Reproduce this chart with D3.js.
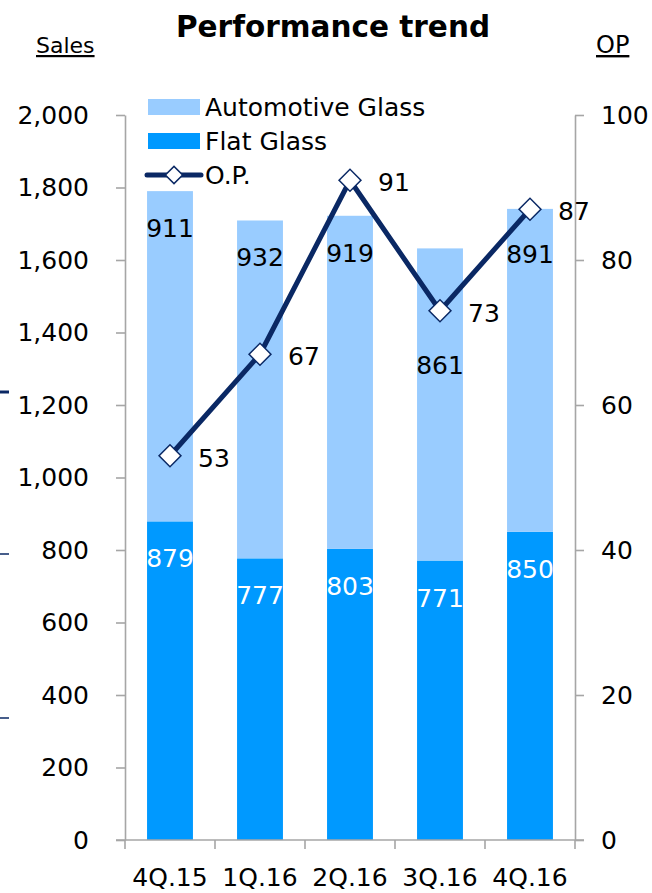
<!DOCTYPE html>
<html>
<head>
<meta charset="utf-8">
<script src="https://cdn.jsdelivr.net/npm/d3@7"></script>
<style>
  html, body { margin: 0; padding: 0; background: #fff; }
  svg { display: block; }
  text { font-family: "DejaVu Sans", Verdana, sans-serif; fill: #000; }
</style>
</head>
<body>
<div id="chart"></div>
<script>
// Quarterly sales (stacked by segment) with operating profit on a secondary axis
const quarters = ["4Q.15", "1Q.16", "2Q.16", "3Q.16", "4Q.16"];
const flatGlass = [879, 777, 803, 771, 850];
const automotiveGlass = [911, 932, 919, 861, 891];
const operatingProfit = [53, 67, 91, 73, 87];
const salesTicks = [0, 200, 400, 600, 800, 1000, 1200, 1400, 1600, 1800, 2000];
const opTicks = [0, 20, 40, 60, 80, 100];

// extra downward shift for automotive labels that would collide with the O.P. line
const autoLabelShift = [0, 0, 0, 80, 8];

const W = 652, H = 893;
const C = { auto: "#99ccff", flat: "#0099ff", op: "#0a2864", axis: "#a6a6a6" };

const svg = d3.select("#chart").append("svg").attr("width", W).attr("height", H);

const x = d3.scaleBand().domain(quarters).range([125, 575])
  .paddingInner(0.49).paddingOuter(0.245);
const xCell = d3.scaleBand().domain(quarters).range([125, 575]).padding(0);
const ySales = d3.scaleLinear().domain([0, 2000]).range([840, 115]);
const yOp = d3.scaleLinear().domain([0, 100]).range([840, 115]);

const rows = quarters.map((q, i) => ({ q, flat: flatGlass[i], auto: automotiveGlass[i], op: operatingProfit[i], i }));
const stack = d3.stack().keys(["flat", "auto"])(rows);

// bars
const segColor = { flat: C.flat, auto: C.auto };
svg.append("g").selectAll("g").data(stack).join("g")
  .attr("fill", d => segColor[d.key])
  .selectAll("rect").data(d => d).join("rect")
  .attr("x", d => x(d.data.q))
  .attr("width", x.bandwidth())
  .attr("y", d => ySales(d[1]))
  .attr("height", d => ySales(d[0]) - ySales(d[1]));

// bar value labels, near the top of each segment
const labels = svg.append("g").attr("font-size", 25).attr("text-anchor", "middle");
stack.forEach(layer => {
  labels.selectAll(null).data(layer).join("text")
    .attr("x", d => x(d.data.q) + x.bandwidth() / 2)
    .attr("y", d => ySales(d[1]) + 37 + (layer.key === "auto" ? autoLabelShift[d.data.i] : 0))
    .attr("dy", "0.36em")
    .style("fill", layer.key === "flat" ? "#fff" : "#000")
    .text(d => d.data[layer.key]);
});

// axes
const axisStyle = g => {
  g.select(".domain").attr("stroke", C.axis).attr("stroke-width", 1.6);
  g.selectAll(".tick line").attr("stroke", C.axis).attr("stroke-width", 1.6);
  g.selectAll(".tick text").attr("font-size", 25).style("font-family", "DejaVu Sans, Verdana, sans-serif").attr("fill", "#000");
};
svg.append("g").attr("transform", "translate(125,0)")
  .call(d3.axisLeft(ySales).tickValues(salesTicks).tickSize(9).tickSizeOuter(0).tickPadding(27).tickFormat(d3.format(",")))
  .call(axisStyle);
svg.append("g").attr("transform", "translate(575,0)")
  .call(d3.axisRight(yOp).tickValues(opTicks).tickSize(9).tickSizeOuter(0).tickPadding(17))
  .call(axisStyle);

// category axis with ticks on cell boundaries
const xAxis = svg.append("g").attr("transform", "translate(0,840)");
xAxis.append("line").attr("x1", 116).attr("x2", 584).attr("stroke", C.axis).attr("stroke-width", 1.6);
const bounds = quarters.map(q => xCell(q)).concat([xCell(quarters[quarters.length - 1]) + xCell.bandwidth()]);
xAxis.selectAll(".bt").data(bounds).join("line")
  .attr("x1", d => d).attr("x2", d => d).attr("y1", 0).attr("y2", 9)
  .attr("stroke", C.axis).attr("stroke-width", 1.6);
xAxis.selectAll(".cl").data(quarters).join("text")
  .attr("x", d => xCell(d) + xCell.bandwidth() / 2)
  .attr("y", 37).attr("dy", "0.36em")
  .attr("text-anchor", "middle").attr("font-size", 25)
  .text(d => d);

// operating profit line
const opLine = d3.line().x(d => x(d.q) + x.bandwidth() / 2).y(d => yOp(d.op));
svg.append("path").datum(rows).attr("d", opLine)
  .attr("fill", "none").attr("stroke", C.op).attr("stroke-width", 5).attr("stroke-linejoin", "round");
const diamond = d3.symbol().type(d3.symbolSquare).size(240);
svg.append("g").selectAll("path").data(rows).join("path")
  .attr("d", diamond)
  .attr("transform", d => `translate(${x(d.q) + x.bandwidth() / 2},${yOp(d.op)}) rotate(45)`)
  .attr("fill", "#fff").attr("stroke", C.op).attr("stroke-width", 1.5);
svg.append("g").attr("font-size", 25).selectAll("text").data(rows).join("text")
  .attr("x", d => x(d.q) + x.bandwidth() / 2 + 28)
  .attr("y", d => yOp(d.op) + 2).attr("dy", "0.36em")
  .text(d => d.op);

// legend
const legend = svg.append("g").attr("font-size", 25);
legend.append("rect").attr("x", 148).attr("y", 99).attr("width", 52).attr("height", 16).attr("fill", C.auto);
legend.append("text").attr("x", 205).attr("y", 107).attr("dy", "0.36em").text("Automotive Glass");
legend.append("rect").attr("x", 148).attr("y", 133).attr("width", 52).attr("height", 16).attr("fill", C.flat);
legend.append("text").attr("x", 205).attr("y", 141).attr("dy", "0.36em").text("Flat Glass");
legend.append("line").attr("x1", 147).attr("x2", 201).attr("y1", 175).attr("y2", 175)
  .attr("stroke", C.op).attr("stroke-width", 5).attr("stroke-linecap", "round");
legend.append("path").attr("d", d3.symbol().type(d3.symbolSquare).size(150))
  .attr("transform", "translate(174,175) rotate(45)")
  .attr("fill", "#fff").attr("stroke", C.op).attr("stroke-width", 1.5);
legend.append("text").attr("x", 205).attr("y", 175).attr("dy", "0.36em").text("O.P.");

// title and axis captions
svg.append("text").attr("x", 333).attr("y", 37).attr("text-anchor", "middle")
  .attr("font-size", 29.5).attr("font-weight", "bold")
  .text("Performance trend");
svg.append("text").attr("x", 36).attr("y", 53).attr("font-size", 22)
  .attr("text-decoration", "underline").text("Sales");
svg.append("text").attr("x", 596).attr("y", 53).attr("font-size", 24)
  .attr("text-decoration", "underline").text("OP");

// slivers of the neighbouring panel along the left edge
const edge = svg.append("g").attr("stroke", C.op);
edge.append("line").attr("x1", 0).attr("x2", 9).attr("y1", 392).attr("y2", 392).attr("stroke-width", 3);
edge.append("line").attr("x1", 0).attr("x2", 9).attr("y1", 554).attr("y2", 554).attr("stroke-width", 1.5);
edge.append("line").attr("x1", 0).attr("x2", 9).attr("y1", 718).attr("y2", 718).attr("stroke-width", 1.5);
</script>
</body>
</html>
